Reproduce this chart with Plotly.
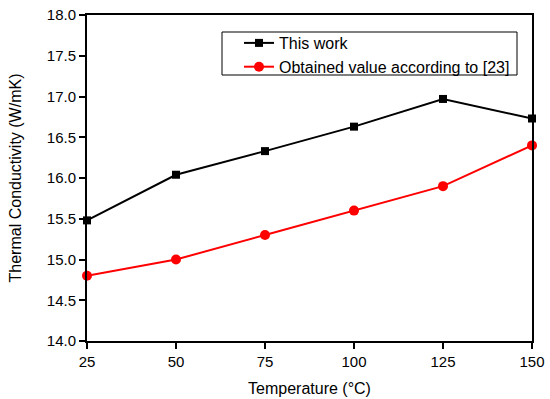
import plotly.graph_objects as go

temperature = [25, 50, 75, 100, 125, 150]
this_work = [15.48, 16.04, 16.33, 16.63, 16.97, 16.73]
ref23 = [14.80, 15.00, 15.30, 15.60, 15.90, 16.40]
x_ticks = [25, 50, 75, 100, 125, 150]
y_ticks = [14.0, 14.5, 15.0, 15.5, 16.0, 16.5, 17.0, 17.5, 18.0]

fig = go.Figure()
fig.add_trace(go.Scatter(x=temperature, y=this_work, mode="lines+markers", name="This work",
                         line=dict(color="black", width=2), marker=dict(symbol="square", size=8, color="black"),
                         cliponaxis=False))
fig.add_trace(go.Scatter(x=temperature, y=ref23, mode="lines+markers", name="Obtained value according to [23]",
                         line=dict(color="#ff0000", width=2), marker=dict(symbol="circle", size=10, color="#ff0000"),
                         cliponaxis=False))

axis_common = dict(showgrid=False, zeroline=False, showline=True, linecolor="black", linewidth=2,
                   mirror=True, ticks="outside", ticklen=6, tickwidth=1.5, tickcolor="black",
                   automargin=False,
                   tickfont=dict(family="Liberation Sans, Arial", size=15, color="black"))
fig.update_layout(
    width=550, height=399,
    margin=dict(l=87, r=18, t=15, b=58),
    plot_bgcolor="white", paper_bgcolor="white",
    font=dict(family="Liberation Sans, Arial", color="black"),
    xaxis=dict(range=[25, 150], tickvals=x_ticks, ticktext=[str(v) for v in x_ticks],
               title=dict(text="Temperature (°C)", font=dict(size=16), standoff=14), **axis_common),
    yaxis=dict(range=[14, 18], tickvals=y_ticks, ticktext=[f"{v:.1f}" for v in y_ticks],
               title=dict(text="Thermal Conductivity (W/mK)", font=dict(size=16), standoff=21), **axis_common),
    legend=dict(x=(239 - 87) / 445, y=(341 - 26) / 326, xanchor="left", yanchor="top",
                borderwidth=0, bgcolor="rgba(0,0,0,0)",
                font=dict(size=16, color="black"), tracegroupgap=0),
    showlegend=True,
    shapes=[dict(type="rect", xref="paper", yref="paper",
                 x0=(222 - 87) / 445, x1=(517 - 87) / 445,
                 y0=(341 - 75) / 326, y1=(341 - 32) / 326,
                 line=dict(color="black", width=1), fillcolor="white", layer="below")],
)
fig.write_html("out.html", config={"displayModeBar": False},
               post_script="document.body.style.margin='0px';")
